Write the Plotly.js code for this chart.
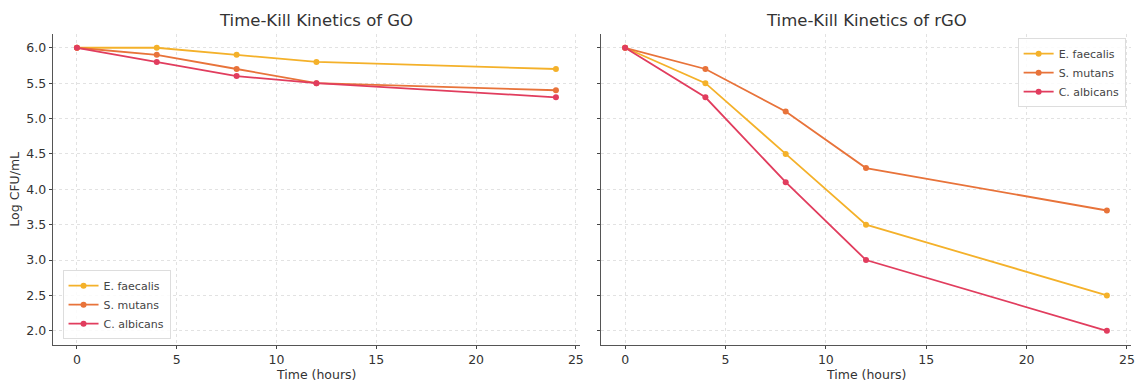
<!DOCTYPE html>
<html><head><meta charset="utf-8">
<script src="https://cdn.plot.ly/plotly-3.0.1.min.js"></script>
<style>body{margin:0;background:#fff}#c{width:1137px;height:382px}</style>
</head><body><div id="c"></div>
<script>
const time = [0, 4, 8, 12, 24];
const seriesNames = ["E. faecalis", "S. mutans", "C. albicans"];
const goFaecalis = [6.0, 6.0, 5.9, 5.8, 5.7];
const goMutans = [6.0, 5.9, 5.7, 5.5, 5.4];
const goAlbicans = [6.0, 5.8, 5.6, 5.5, 5.3];
const rgoFaecalis = [6.0, 5.5, 4.5, 3.5, 2.5];
const rgoMutans = [6.0, 5.7, 5.1, 4.3, 3.7];
const rgoAlbicans = [6.0, 5.3, 4.1, 3.0, 2.0];
const colors = ["#f4b12a", "#e8733a", "#e13d5e"];

const goData = [goFaecalis, goMutans, goAlbicans];
const rgoData = [rgoFaecalis, rgoMutans, rgoAlbicans];
const traces = [];
goData.forEach((y, i) => traces.push({x: time, y: y, name: seriesNames[i], mode: "lines+markers",
  line: {color: colors[i], width: 1.8}, marker: {color: colors[i], size: 6}, xaxis: "x", yaxis: "y", legend: "legend"}));
rgoData.forEach((y, i) => traces.push({x: time, y: y, name: seriesNames[i], mode: "lines+markers",
  line: {color: colors[i], width: 1.8}, marker: {color: colors[i], size: 6}, xaxis: "x2", yaxis: "y2", legend: "legend2"}));

const axCommon = {showline: true, linecolor: "#555", linewidth: 1.3, ticks: "outside", ticklen: 3, tickcolor: "#444",
  showgrid: true, gridcolor: "#e2e2e2", griddash: "dot", gridwidth: 1, zeroline: false, mirror: false,
  tickfont: {size: 12.5, color: "#333"}};
const font = {family: "DejaVu Sans", size: 12, color: "#333"};
const legCommon = {bgcolor: "rgba(255,255,255,0.85)", bordercolor: "#ddd", borderwidth: 1, font: {size: 11, color: "#444"}};

const layout = {
  width: 1137, height: 382, margin: {l: 0, r: 0, t: 0, b: 0}, paper_bgcolor: "#fff", plot_bgcolor: "#fff",
  font: font,
  xaxis: Object.assign({}, axCommon, {domain: [0.0466, 0.510], range: [-1.2, 25.2], dtick: 5, anchor: "y"}),
  yaxis: Object.assign({}, axCommon, {domain: [0.097, 0.912], range: [1.8, 6.2], dtick: 0.5, tickformat: ".1f", anchor: "x",
    title: {text: "Log CFU/mL", font: {size: 12.5, color: "#333"}, standoff: 4}}),
  xaxis2: Object.assign({}, axCommon, {domain: [0.5286, 0.9947], range: [-1.2, 25.2], dtick: 5, anchor: "y2"}),
  yaxis2: Object.assign({}, axCommon, {domain: [0.097, 0.912], range: [1.8, 6.2], dtick: 0.5, anchor: "x2", showticklabels: false}),
  legend: Object.assign({}, legCommon, {x: 0.055, y: 0.112, xanchor: "left", yanchor: "bottom"}),
  legend2: Object.assign({}, legCommon, {x: 0.99, y: 0.90, xanchor: "right", yanchor: "top"}),
  annotations: [
    {text: "Time-Kill Kinetics of GO", x: 0.2783, y: 0.917, xref: "paper", yref: "paper", showarrow: false,
      xanchor: "center", yanchor: "bottom", font: {size: 16.5, color: "#333"}},
    {text: "Time-Kill Kinetics of rGO", x: 0.7617, y: 0.917, xref: "paper", yref: "paper", showarrow: false,
      xanchor: "center", yanchor: "bottom", font: {size: 16.5, color: "#333"}},
    {text: "Time (hours)", x: 0.2783, y: 0, xref: "paper", yref: "paper", showarrow: false,
      xanchor: "center", yanchor: "bottom", yshift: -2, font: {size: 12.5, color: "#333"}},
    {text: "Time (hours)", x: 0.7617, y: 0, xref: "paper", yref: "paper", showarrow: false,
      xanchor: "center", yanchor: "bottom", yshift: -2, font: {size: 12.5, color: "#333"}}
  ]
};
Plotly.newPlot("c", traces, layout, {displayModeBar: false, staticPlot: true});
</script></body></html>
